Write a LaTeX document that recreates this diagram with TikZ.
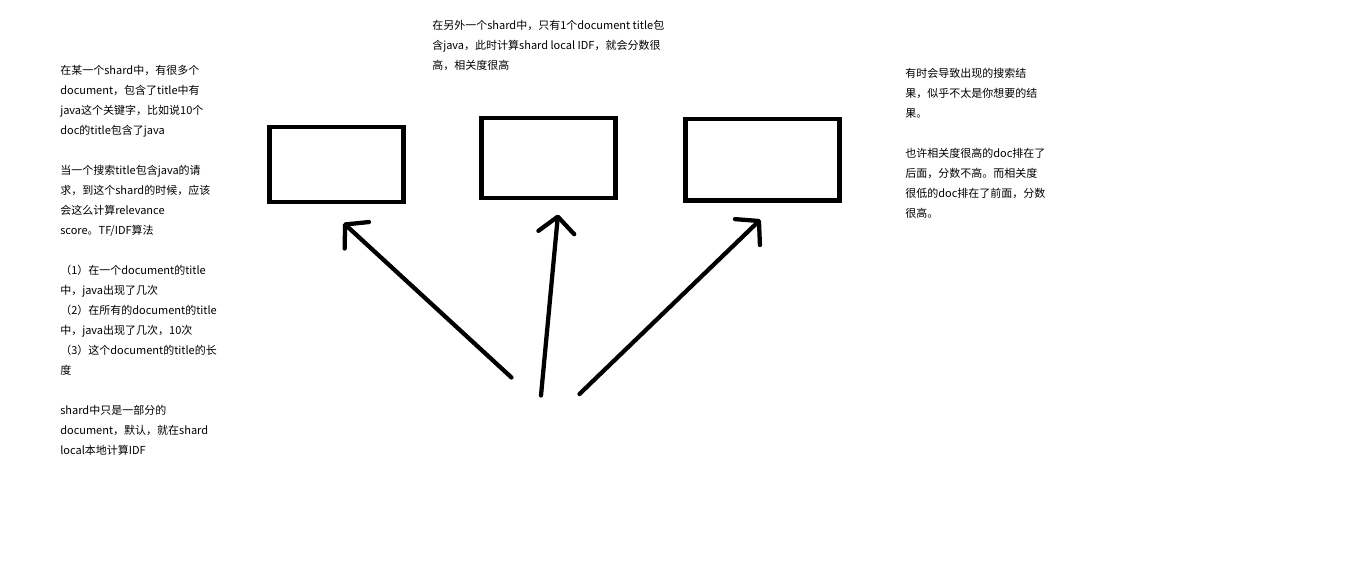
\documentclass[tikz,border=0pt]{standalone}
\usepackage{fontspec}
\setmainfont{Noto Sans CJK SC}
\usetikzlibrary{arrows.meta}

\tikzset{
  shardbox/.style={draw, rectangle, line width=3.3pt, inner sep=0pt},
  note/.style={anchor=north west, inner sep=0pt, align=left,
    font=\fontsize{8.25pt}{15pt}\selectfont},
  pen/.style={line width=3.2pt, line cap=round, line join=round,
    -{Straight Barb[length=12pt, width=27pt, round]}}
}

\begin{document}
\begin{tikzpicture}[x=0.75pt, y=-0.75pt]
  \useasboundingbox (0, 0) rectangle (1360, 561);

  % notes
  \node[note] (leftnote) at (60, 64.5) {在某一个shard中，有很多个\\
    document，包含了title中有\\
    java这个关键字，比如说10个\\
    doc的title包含了java\\[15pt]
    当一个搜索title包含java的请\\
    求，到这个shard的时候，应该\\
    会这么计算relevance\\
    score。TF/IDF算法\\[15pt]
    （1）在一个document的title\\
    中，java出现了几次\\
    （2）在所有的document的title\\
    中，java出现了几次，10次\\
    （3）这个document的title的长\\
    度\\[15pt]
    shard中只是一部分的\\
    document，默认，就在shard\\
    local本地计算IDF};
  \node[note] (midnote) at (432, 19.5) {在另外一个shard中，只有1个document title包\\
    含java，此时计算shard local IDF，就会分数很\\
    高，相关度很高};
  \node[note] (rightnote) at (905, 68) {有时会导致出现的搜索结\\
    果，似乎不太是你想要的结\\
    果。\\[15pt]
    也许相关度很高的doc排在了\\
    后面，分数不高。而相关度\\
    很低的doc排在了前面，分数\\
    很高。};

  % shards
  \node[shardbox, minimum width=100.5pt, minimum height=56.25pt] (shard1) at (336.5, 164.5) {};
  \node[shardbox, minimum width=100.5pt, minimum height=60pt] (shard2) at (548.5, 158) {};
  \node[shardbox, minimum width=115.5pt, minimum height=61.1pt] (shard3) at (762.5, 159.75) {};

  % arrows
  \coordinate (tail1) at (511.5, 377.5);
  \coordinate (tip1) at (343.5, 223);
  \coordinate (tail2) at (541, 395.5);
  \coordinate (tip2) at (558, 214.5);
  \coordinate (tail3) at (579.5, 394);
  \coordinate (tip3) at (760.5, 219.5);
  \draw[pen] (tail1) -- (tip1);
  \draw[pen] (tail2) -- (tip2);
  \draw[pen] (tail3) -- (tip3);
\end{tikzpicture}
\end{document}
